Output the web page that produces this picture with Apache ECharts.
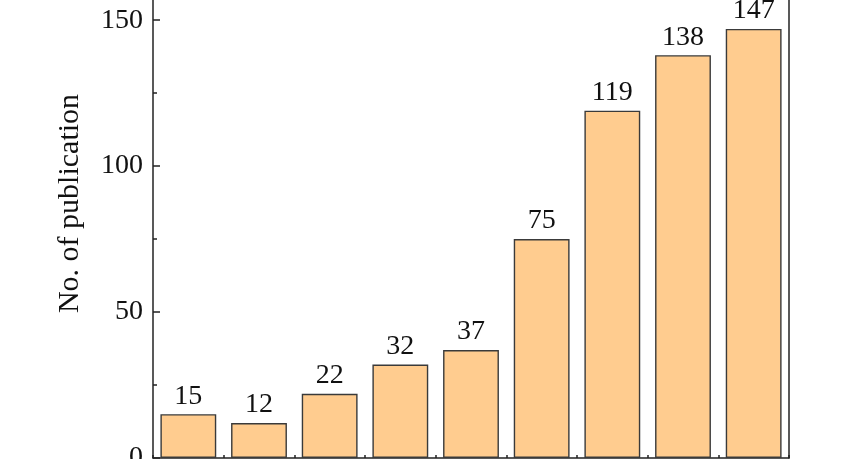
<!DOCTYPE html>
<html>
<head>
<meta charset="utf-8">
<script src="https://cdn.jsdelivr.net/npm/echarts@6/dist/echarts.min.js"></script>
<style>
html,body{margin:0;padding:0;background:#fff;}
#chart{width:851px;height:459px;}
</style>
</head>
<body>
<div id="chart"></div>
<script>
const categories = ['2014','2015','2016','2017','2018','2019','2020','2021','2022'];
const publications = [15, 12, 22, 32, 37, 75, 119, 138, 147];
const yTicks = [0, 50, 100, 150];

const font = '"Liberation Serif", "Times New Roman", serif';
const chart = echarts.init(document.getElementById('chart'));
chart.setOption({
  animation: false,
  backgroundColor: '#fff',
  grid: { left: 153, right: 62, top: -9, bottom: 1, containLabel: false, outerBoundsMode: 'none' },
  xAxis: [
    {
      type: 'category', data: categories, position: 'bottom',
      axisLine: { show: true, lineStyle: { color: '#222', width: 1.5 } },
      axisTick: { show: true, inside: true, alignWithLabel: true, length: 7, lineStyle: { color: '#222', width: 1.5 } },
      axisLabel: { show: false }
    },
    {
      type: 'category', data: categories, position: 'bottom',
      axisLine: { show: false },
      axisTick: { show: true, inside: true, alignWithLabel: false, length: 3, lineStyle: { color: '#222', width: 1.5 } },
      axisLabel: { show: false }
    }
  ],
  yAxis: [
    {
      type: 'value', min: 0, max: 160, interval: 50, position: 'left',
      name: 'No. of publication', nameLocation: 'middle', nameGap: 68,
      nameTextStyle: { fontFamily: font, fontSize: 30, color: '#111', padding: [0, 0, 0, 42] },
      axisLine: { show: true, lineStyle: { color: '#222', width: 1.5 } },
      axisTick: { show: true, inside: true, length: 7, lineStyle: { color: '#222', width: 1.5 } },
      minorTick: { show: true, splitNumber: 2, length: 4, lineStyle: { color: '#222', width: 1.5 } },
      axisLabel: {
        fontFamily: font, fontSize: 28, color: '#111', margin: 10,
        showMaxLabel: false,
        formatter: v => yTicks.includes(v) ? String(v) : ''
      },
      splitLine: { show: false }
    },
    {
      type: 'value', min: 0, max: 160, interval: 50, position: 'right',
      axisLine: { show: true, lineStyle: { color: '#222', width: 1.5 } },
      axisTick: { show: false }, axisLabel: { show: false }, splitLine: { show: false }
    }
  ],
  series: [{
    type: 'bar', data: publications, xAxisIndex: 0, yAxisIndex: 0,
    barWidth: '79%',
    itemStyle: { color: '#FFCC8F', borderColor: '#3a3a3a', borderWidth: 1.4 },
    label: { show: true, position: 'top', distance: 4, fontFamily: font, fontSize: 28, color: '#111' }
  }]
});
</script>
</body>
</html>
